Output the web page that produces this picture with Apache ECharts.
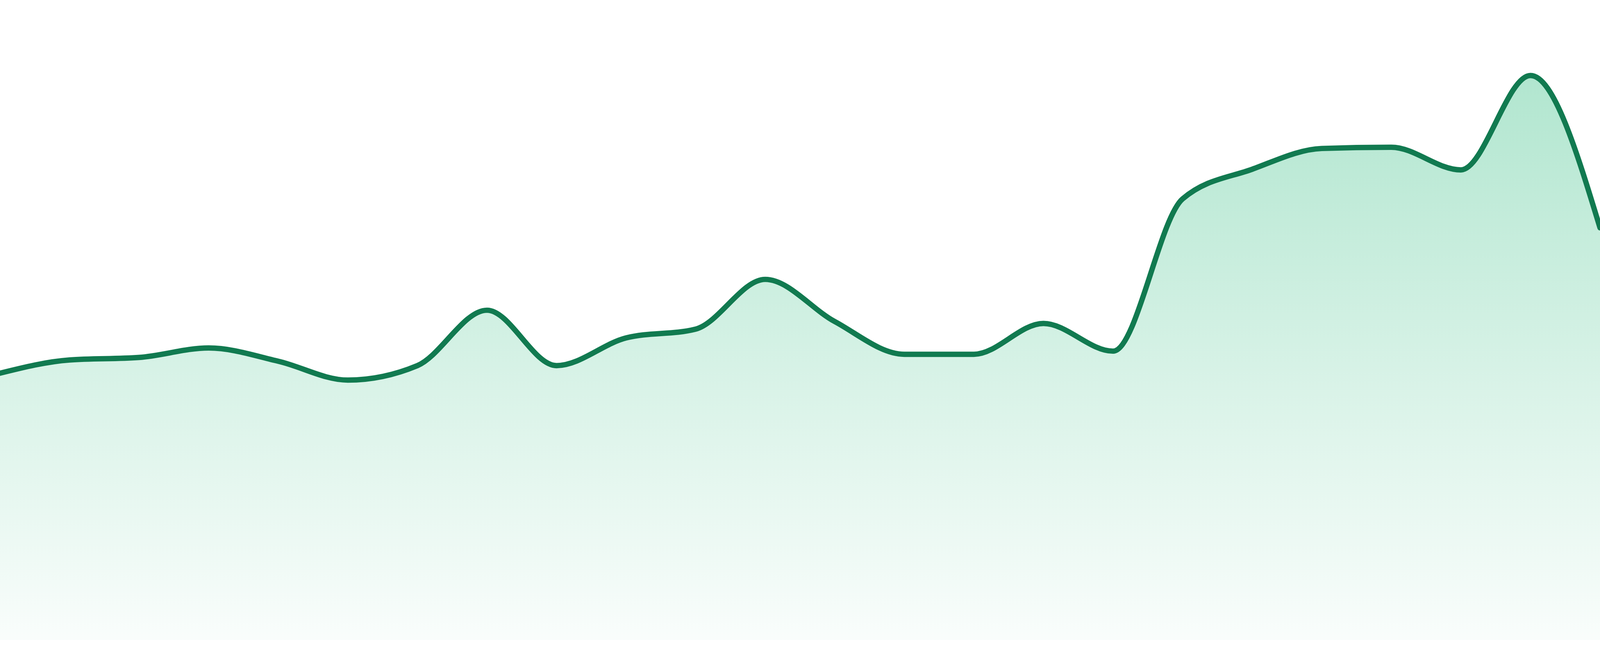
<html>
	<head>
		<meta http-equiv="content-type" content="text/html; charset=utf-8">
		<script src="https://cdn.jsdelivr.net/npm/echarts@6/dist/echarts.min.js"></script>
		<style>
			html, body { width: 100%; height: 100%; margin: 0; padding: 0; background: #ffffff; overflow: hidden; }
			#chart { width: 100vw; height: 100vh; }
		</style>
		<title>Trend</title>
	</head>
	<body>
		<div id="chart"></div>
		<script type="text/javascript">
///////////////////////////////////////////////////////////////////////////////
// data (one value per point)
var labels = ['01', '02', '03', '04', '05', '06', '07', '08', '09', '10', '11', '12',
	'13', '14', '15', '16', '17', '18', '19', '20', '21', '22', '23', '24'];
var values = [42.4, 44.5, 44.9, 46.4, 44.3, 41.3, 43.6, 52.4, 43.6, 48.0, 49.4, 57.3,
	50.6, 45.4, 45.4, 50.3, 45.9, 70.1, 74.8, 78.1, 78.3, 74.7, 89.7, 65.5];

// value axis range
var y_min = 0;
var y_max = 100;

///////////////////////////////////////////////////////////////////////////////
var chart = echarts.init(document.getElementById('chart'));

// sizes below are taken from a 4800 px wide picture, scale them to the page
var k = chart.getWidth() / 4800;

////////////////////////////////////////////////////////////////////////////
// monotone cubic curve through pixel points (same rule as d3 curveMonotoneX)
function sgn(v) {
	return v < 0 ? -1 : 1;
}

function monotone_path(pts) {
	var n = pts.length;
	var h = [], s = [], t = [];
	var i;
	for (i = 0; i < n-1; i++) {
		h[i] = pts[i+1][0] - pts[i][0];
		s[i] = (pts[i+1][1] - pts[i][1]) / h[i];
	}
	for (i = 1; i < n-1; i++) {
		var p = (s[i-1]*h[i] + s[i]*h[i-1]) / (h[i-1] + h[i]);
		t[i] = (sgn(s[i-1]) + sgn(s[i])) * Math.min(Math.abs(s[i-1]), Math.abs(s[i]), 0.5*Math.abs(p)) || 0;
	}
	t[0] = (3*s[0] - t[1]) / 2;
	t[n-1] = (3*s[n-2] - t[n-2]) / 2;

	var d = 'M' + pts[0][0] + ',' + pts[0][1];
	for (i = 0; i < n-1; i++) {
		var dx = h[i] / 3;
		d += ' C' + (pts[i][0] + dx) + ',' + (pts[i][1] + dx*t[i]) +
			' ' + (pts[i+1][0] - dx) + ',' + (pts[i+1][1] - dx*t[i+1]) +
			' ' + pts[i+1][0] + ',' + pts[i+1][1];
	}
	return d;
}

// whole curve is drawn once, from the first item
function render_curve(params, api) {
	if (params.dataIndex !== 0) return null;
	var pts = [];
	for (var i = 0; i < values.length; i++) {
		pts.push(api.coord([i, values[i]]));
	}
	var base = api.coord([0, y_min])[1];
	var line = monotone_path(pts);
	var area = line + ' L' + pts[pts.length-1][0] + ',' + base + ' L' + pts[0][0] + ',' + base + ' Z';

	return {
		type: 'group',
		children: [{
			type: 'path',
			shape: {pathData: area},
			style: {
				fill: new echarts.graphic.LinearGradient(0, 0, 0, 1, [
					{offset: 0, color: 'rgba(19,179,110,0.33)'},
					{offset: 1, color: 'rgba(19,179,110,0.025)'},
				]),
				stroke: null,
			},
		}, {
			type: 'path',
			shape: {pathData: line},
			style: {
				fill: null,
				stroke: '#117a50',
				lineWidth: 16 * k,
				lineCap: 'round',
				lineJoin: 'round',
			},
		}],
	};
}

var chart_option = {
	animation: false,
	backgroundColor: '#ffffff',
	grid: {
		left: 0,
		right: 0,
		top: 32 * k,
		bottom: 48 * k,
	},
	xAxis: {
		type: 'category',
		data: labels,
		boundaryGap: false,
		show: false,
	},
	yAxis: {
		type: 'value',
		min: y_min,
		max: y_max,
		show: false,
	},
	series: [{
		type: 'custom',
		renderItem: render_curve,
		clip: false,
		data: values.map(function(v, i) { return [i, v]; }),
		encode: {x: 0, y: 1},
	}],
};

chart.setOption(chart_option);

window.addEventListener('resize', function() {
	chart.resize();
});
		</script>
	</body>
</html>
